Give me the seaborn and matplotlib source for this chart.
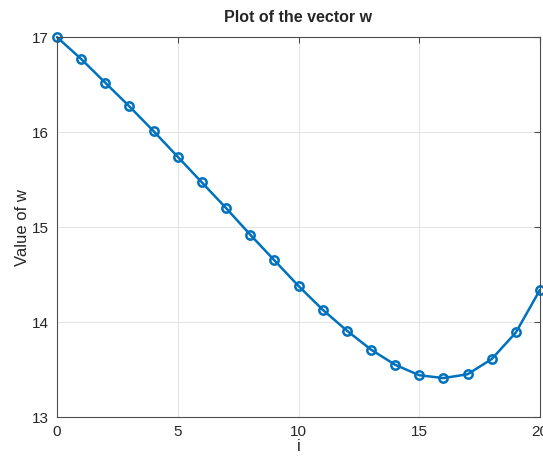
import numpy as np
import pandas as pd
import matplotlib
matplotlib.use('Agg')
import matplotlib.pyplot as plt
import seaborn as sns

# valeurs
i_values = list(range(21))
w_values = [17.00, 16.77, 16.52, 16.27, 16.01, 15.74, 15.47, 15.20, 14.92, 14.65,
            14.38, 14.13, 13.91, 13.71, 13.55, 13.44, 13.41, 13.45, 13.61, 13.89, 14.34]

sns.set_style("white")
plt.rcParams['font.family'] = ['Liberation Sans', 'DejaVu Sans']

df = pd.DataFrame({'i': i_values, 'w': w_values})

fig = plt.figure(figsize=(5.43, 4.59), dpi=100)
ax = fig.add_axes([0.105, 0.0915, 0.8895, 0.8275])

sns.lineplot(data=df, x='i', y='w', ax=ax, color='#0072BD', linewidth=1.8,
             marker='o', markersize=6, markerfacecolor='none',
             markeredgecolor='#0072BD', markeredgewidth=1.8, clip_on=False)

ax.set_xlim(0, 20)
ax.set_ylim(13, 17)
ax.set_xticks([0, 5, 10, 15, 20])
ax.set_yticks([13, 14, 15, 16, 17])
ax.grid(True, color='#e3e3e3', linewidth=0.7)
ax.set_axisbelow(True)
for s in ax.spines.values():
    s.set_color('#4d4d4d')
    s.set_linewidth(0.8)
    s.set_visible(True)
ax.tick_params(direction='in', length=4, width=0.8, color='#4d4d4d',
               top=True, right=True, labelsize=11, labelcolor='#262626', pad=6)
ax.set_xlabel('i', fontsize=12, color='#262626', labelpad=0)
ax.set_ylabel('Value of w', fontsize=12, color='#262626', labelpad=1)
ax.set_title('Plot of the vector w', fontsize=11.5, fontweight='bold', pad=11)

fig.savefig('out.png', dpi=100)
